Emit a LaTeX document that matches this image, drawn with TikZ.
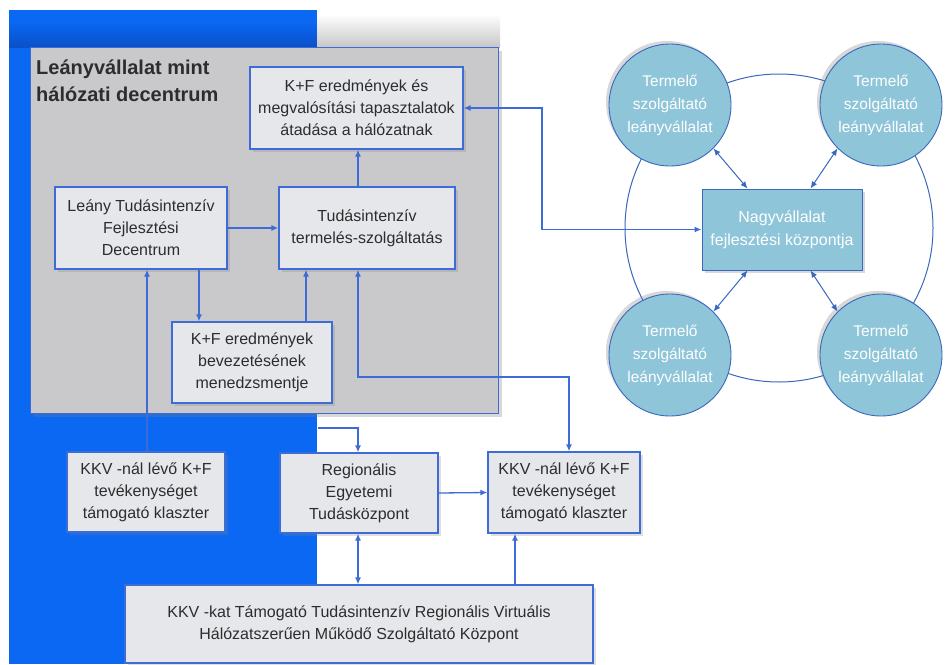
\documentclass[tikz,border=0pt]{standalone}
\usepackage{fontspec}
\setmainfont{Liberation Sans}
\usetikzlibrary{arrows.meta,shadows,calc}
\definecolor{bgblue}{RGB}{10,104,242}
\definecolor{bgdark}{RGB}{10,80,200}
\definecolor{panelgray}{RGB}{201,201,203}
\definecolor{boxgray}{RGB}{230,231,235}
\definecolor{lineblue}{RGB}{62,108,214}
\definecolor{circfill}{RGB}{142,197,217}
\definecolor{circline}{RGB}{58,104,190}
\definecolor{txtgray}{RGB}{45,45,45}
\begin{document}
\begin{tikzpicture}[x=1pt,y=-1pt,
  box/.style={draw=lineblue, line width=1.3pt, fill=boxgray, align=center, inner sep=0pt,
    text=txtgray, font=\fontsize{16}{22}\selectfont,
    drop shadow={opacity=0.25, shadow xshift=3pt, shadow yshift=-3pt}},
  circ/.style={circle, draw=circline, line width=0.9pt, fill=circfill, minimum size=122pt,
    align=center, inner sep=0pt, text=white, font=\fontsize{15.5}{23}\selectfont,
    drop shadow={opacity=0.3, shadow xshift=-3pt, shadow yshift=3pt}},
  conn/.style={draw=lineblue, line width=1.3pt},
  tip/.tip={Latex[length=7pt,width=6pt]},
  arr/.style={conn, -tip},
  dbl/.style={conn, tip-tip},
  cdbl/.style={draw=circline, line width=1pt, tip-tip}]
\useasboundingbox (0,0) rectangle (945,664);
\fill[white] (0,0) rectangle (945,664);
% blue band
\fill[bgblue] (9,10) rectangle (317,664);
\shade[top color=bgblue, bottom color=bgdark] (9,22) rectangle (317,47);
\shade[top color=white, bottom color=black!22] (317,14) rectangle (500,47);
% gray panel
\node[draw=lineblue, line width=1pt, fill=panelgray, minimum width=468pt, minimum height=366pt,
  inner sep=0pt, drop shadow={opacity=0.3, shadow xshift=4pt, shadow yshift=-4pt}] (panel) at (264,230) {};
\node[anchor=north west, align=left, inner sep=0pt, text=txtgray,
  font=\fontsize{20}{27}\selectfont\bfseries] (title) at (36,60) {Leányvállalat mint\\hálózati decentrum};
% boxes
\node[box, minimum width=213pt, minimum height=82pt] (A) at (356.5,108)
  {K+F eredmények és\\megvalósítási tapasztalatok\\átadása a hálózatnak};
\node[box, minimum width=172pt, minimum height=82pt] (B) at (141,228)
  {Leány Tudásintenzív\\Fejlesztési\\Decentrum};
\node[box, minimum width=176pt, minimum height=82pt] (C) at (367,228)
  {Tudásintenzív\\termelés-szolgáltatás};
\node[box, minimum width=160pt, minimum height=81pt] (D) at (252,362.5)
  {K+F eredmények\\bevezetésének\\menedzsmentje};
\node[box, minimum width=158pt, minimum height=80pt] (E) at (146,492)
  {KKV -nál lévő K+F\\tevékenységet\\támogató klaszter};
\node[box, minimum width=158pt, minimum height=80pt] (F) at (359,493)
  {Regionális\\Egyetemi\\Tudásközpont};
\node[box, minimum width=152pt, minimum height=81pt] (G) at (564,492.5)
  {KKV -nál lévő K+F\\tevékenységet\\támogató klaszter};
\node[box, minimum width=468pt, minimum height=78pt] (H) at (359,624)
  {KKV -kat Támogató Tudásintenzív Regionális Virtuális\\Hálózatszerűen Működő Szolgáltató Központ};
% right cluster
\draw[circline, line width=1pt] (779,228) circle (154);
\node[circ] (TL) at (670,105) {Termelő\\szolgáltató\\leányvállalat};
\node[circ] (TR) at (881,105) {Termelő\\szolgáltató\\leányvállalat};
\node[circ] (BL) at (670,355) {Termelő\\szolgáltató\\leányvállalat};
\node[circ] (BR) at (881,355) {Termelő\\szolgáltató\\leányvállalat};
\node[draw=circline, line width=1pt, fill=circfill, minimum width=160pt, minimum height=81pt,
  align=center, inner sep=0pt, text=white, font=\fontsize{16}{23}\selectfont,
  drop shadow={opacity=0.3, shadow xshift=3pt, shadow yshift=-3pt}] (N) at (782,229.5)
  {Nagyvállalat\\fejlesztési központja};
\draw[cdbl] (TL.-45) -- ($(N.north west)+(46,0)$);
\draw[cdbl] (TR.-135) -- ($(N.north east)+(-52,0)$);
\draw[cdbl] (BL.45) -- ($(N.south west)+(46,0)$);
\draw[cdbl] (BR.135) -- ($(N.south east)+(-52,0)$);
% coordinates for vertical runs
\coordinate (xe) at (147,0);
\coordinate (xb) at (199,0);
\coordinate (xd) at (306,0);
\coordinate (xa) at (358,0);
\coordinate (xg) at (569,0);
\coordinate (xh) at (515,0);
\coordinate (xk) at (542,0);
\coordinate (fs) at (318,428);
\coordinate (gy) at (0,377);
% connectors
\draw[arr] (xa |- C.north) -- (xa |- A.south);
\draw[arr] (B.east) -- (C.west);
\draw[arr] (xb |- B.south) -- (xb |- D.north);
\draw[arr] (xd |- D.north) -- (xd |- C.south);
\draw[arr] (xe |- E.north) -- (xe |- B.south);
\draw[dbl] (xa |- C.south) |- (xg |- gy) -- (xg |- G.north);
\draw[arr] (fs) -| (xa |- F.north);
\draw[arr] (F.east) -- (G.west);
\draw[dbl] (xa |- F.south) -- (xa |- H.north);
\draw[arr] (xh |- H.north) -- (xh |- G.south);
\draw[dbl] (A.east) -| (xk |- N.west) -- (N.west);
\end{tikzpicture}
\end{document}
